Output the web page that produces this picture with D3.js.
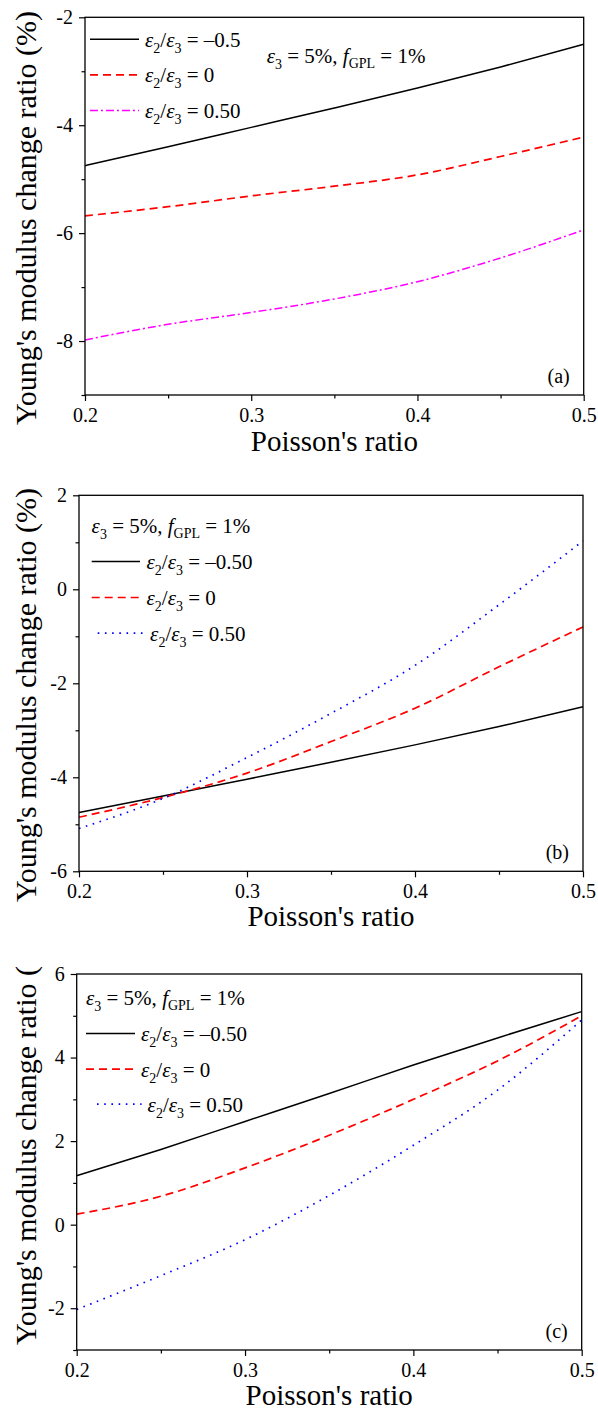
<!DOCTYPE html>
<html>
<head>
<meta charset="utf-8">
<script src="https://cdn.jsdelivr.net/npm/d3@7"></script>
<style>
  body { margin: 0; background: #fff; }
  svg { display: block; font-family: "Liberation Serif", "Times New Roman", serif; }
</style>
</head>
<body>
<div id="chart"></div>
<script>
// Poisson's ratio sample points (x axis of every panel)
const poisson = [0.2, 0.25, 0.3, 0.35, 0.4, 0.45, 0.5];

// panel (a): Young's modulus change ratio (%)
const aNeg  = [-4.75, -4.40, -4.04, -3.68, -3.31, -2.92, -2.50];
const aZero = [-5.68, -5.51, -5.31, -5.13, -4.92, -4.58, -4.22];
const aPos  = [-7.98, -7.69, -7.47, -7.22, -6.90, -6.46, -5.94];

// panel (b)
const bNeg  = [-4.75, -4.40, -4.04, -3.68, -3.31, -2.92, -2.50];
const bZero = [-4.85, -4.43, -3.91, -3.24, -2.53, -1.65, -0.80];
const bPos  = [-5.09, -4.45, -3.58, -2.64, -1.62, -0.33, 1.03];

// panel (c)
const cNeg  = [1.17, 1.80, 2.47, 3.14, 3.82, 4.47, 5.10];
const cZero = [0.25, 0.68, 1.36, 2.14, 3.00, 3.92, 5.00];
const cPos  = [-2.03, -1.22, -0.36, 0.70, 1.90, 3.22, 4.90];

// tick labels
const xMajor = [0.2, 0.3, 0.4, 0.5];
const xMinor = [0.25, 0.35, 0.45];
const aYMajor = [-8, -6, -4, -2], aYMinor = [-9, -7, -5, -3];
const bYMajor = [-6, -4, -2, 0, 2], bYMinor = [-5, -3, -1, 1];
const cYMajor = [-2, 0, 2, 4, 6], cYMinor = [-3, -1, 1, 3, 5];

const aLabels = ["\u20130.5", "0", "0.50"];
const bLabels = ["\u20130.50", "0", "0.50"];

let width = 598, height = 1415;

let svg = d3.select("#chart").append("svg")
  .attr("width", width)
  .attr("height", height);

svg.append("rect").attr("width", width).attr("height", height).attr("fill", "#fff");

let styles = {
  solid:   {color: "#000000", dash: null,        w: 1.5},
  dashed:  {color: "#ff0000", dash: "8,5",       w: 1.7},
  dashdot: {color: "#ff00ff", dash: "8,3,2,3",   w: 1.5},
  dotted:  {color: "#0000ff", dash: "1.6,5.6",   w: 1.7}
};

let panels = [
  {left: 85, right: 583.7, top: 17.3, bottom: 395, yDomain: [-9, -2],
   yMajor: aYMajor, yMinor: aYMinor, tag: "(a)", titleY: 218, xTitle: 56,
   series: [[aNeg, "solid"], [aZero, "dashed"], [aPos, "dashdot"]],
   legend: {x1: 90, x2: 139, tx: 145, rows: [46.7, 82.4, 118], labels: aLabels, indent: 0},
   note: {x: 266.7, y: 62.7}},
  {left: 79, right: 583, top: 495.3, bottom: 871.3, yDomain: [-6, 2],
   yMajor: bYMajor, yMinor: bYMinor, tag: "(b)", titleY: 695, xTitle: 55,
   series: [[bNeg, "solid"], [bZero, "dashed"], [bPos, "dotted"]],
   legend: {x1: 91.7, x2: 140, tx: 146.5, rows: [569, 605, 640.7], labels: bLabels, indent: 6},
   note: {x: 91.6, y: 533}},
  {left: 76.7, right: 581.7, top: 974, bottom: 1350, yDomain: [-3, 6],
   yMajor: cYMajor, yMinor: cYMinor, tag: "(c)", titleY: 1138, clipTop: 966, xTitle: 55,
   series: [[cNeg, "solid"], [cZero, "dashed"], [cPos, "dotted"]],
   legend: {x1: 86, x2: 135, tx: 141, rows: [1041, 1076.7, 1111.7], labels: bLabels, indent: 11},
   note: {x: 86, y: 1005}}
];

// epsilon ratio label: ε2/ε3 = value
function ratioText(g, x, y, value) {
  let t = g.append("text").attr("x", x).attr("y", y).style("font-size", "21px").attr("fill", "#000");
  t.append("tspan").style("font-style", "italic").text("\u03b5");
  t.append("tspan").attr("dy", 6).style("font-size", "14px").text("2");
  t.append("tspan").attr("dy", -6).text("/");
  t.append("tspan").style("font-style", "italic").text("\u03b5");
  t.append("tspan").attr("dy", 6).style("font-size", "14px").text("3");
  t.append("tspan").attr("dy", -6).text(" = " + value);
}

function noteText(g, x, y) {
  let t = g.append("text").attr("x", x).attr("y", y).style("font-size", "21px").attr("fill", "#000");
  t.append("tspan").style("font-style", "italic").text("\u03b5");
  t.append("tspan").attr("dy", 6).style("font-size", "14px").text("3");
  t.append("tspan").attr("dy", -6).text(" = 5%, ");
  t.append("tspan").style("font-style", "italic").text("f");
  t.append("tspan").attr("dy", 5).style("font-size", "14px").text("GPL");
  t.append("tspan").attr("dy", -5).text(" = 1%");
}

panels.forEach((p, i) => {
  let x = d3.scaleLinear().domain([0.2, 0.5]).range([p.left, p.right]);
  let y = d3.scaleLinear().domain(p.yDomain).range([p.bottom, p.top]);
  let g = svg.append("g");

  // minor ticks
  g.append("g").attr("transform", "translate(0," + p.bottom + ")")
    .call(d3.axisBottom(x).tickValues(xMinor).tickSize(3.5).tickFormat(""))
    .call(a => a.select(".domain").remove());
  g.append("g").attr("transform", "translate(" + p.left + ",0)")
    .call(d3.axisLeft(y).tickValues(p.yMinor).tickSize(3.5).tickFormat(""))
    .call(a => a.select(".domain").remove());

  // major ticks + labels
  let xa = g.append("g").attr("transform", "translate(0," + p.bottom + ")")
    .call(d3.axisBottom(x).tickValues(xMajor).tickSize(6).tickPadding(7).tickFormat(d => d.toFixed(1)));
  let ya = g.append("g").attr("transform", "translate(" + p.left + ",0)")
    .call(d3.axisLeft(y).tickValues(p.yMajor).tickSize(6).tickPadding(6).tickFormat(d => String(d)));
  [xa, ya].forEach(a => {
    a.select(".domain").remove();
    a.attr("font-family", null).attr("font-size", null);
    a.selectAll("text").style("font-size", "20px").attr("fill", "#000");
  });
  g.selectAll(".tick line").attr("stroke", "#000").attr("stroke-width", 1.2);

  // curves
  let line = d3.line()
    .x((d, k) => x(poisson[k]))
    .y(d => y(d))
    .curve(d3.curveMonotoneX);
  p.series.forEach(s => {
    let st = styles[s[1]];
    g.append("path").datum(s[0])
      .attr("d", line)
      .attr("fill", "none")
      .attr("stroke", st.color)
      .attr("stroke-width", st.w)
      .attr("stroke-dasharray", st.dash);
  });

  // frame
  g.append("rect")
    .attr("x", p.left).attr("y", p.top)
    .attr("width", p.right - p.left).attr("height", p.bottom - p.top)
    .attr("fill", "none").attr("stroke", "#000").attr("stroke-width", 1.3);

  // legend
  p.series.forEach((s, k) => {
    let st = styles[s[1]];
    let off = s[1] === "dotted" ? p.legend.indent : 0;
    let ly = p.legend.rows[k] - 7.5;
    g.append("line")
      .attr("x1", p.legend.x1 + off).attr("x2", p.legend.x2 + off * 0.6)
      .attr("y1", ly).attr("y2", ly)
      .attr("stroke", st.color).attr("stroke-width", st.w)
      .attr("stroke-dasharray", st.dash);
    ratioText(g, p.legend.tx + off * 0.6, p.legend.rows[k], p.legend.labels[k]);
  });
  noteText(g, p.note.x, p.note.y);

  // panel tag
  g.append("text")
    .attr("x", p.right - 14).attr("y", p.bottom - 12)
    .attr("text-anchor", "end")
    .style("font-size", "20px")
    .text(p.tag);

  // axis titles
  g.append("text")
    .attr("x", (p.left + p.right) / 2).attr("y", p.bottom + p.xTitle)
    .attr("text-anchor", "middle")
    .style("font-size", "29px")
    .text("Poisson's ratio");

  let tg = g;
  if (p.clipTop) {
    svg.append("clipPath").attr("id", "clip" + i)
      .append("rect").attr("x", 0).attr("y", p.clipTop).attr("width", width).attr("height", height - p.clipTop);
    tg = g.append("g").attr("clip-path", "url(#clip" + i + ")");
  }
  tg.append("text")
    .attr("transform", "translate(36," + p.titleY + ") rotate(-90)")
    .attr("text-anchor", "middle")
    .style("font-size", "30px")
    .text("Young's modulus change ratio (%)");
});
</script>
</body>
</html>
